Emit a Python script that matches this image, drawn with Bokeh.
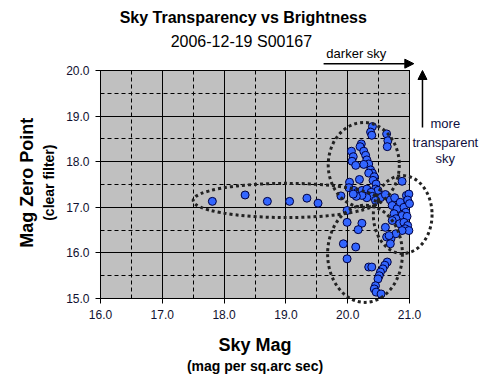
from bokeh.plotting import figure
from bokeh.models import (Range1d, SingleIntervalTicker, NumeralTickFormatter, Label,
                          Arrow, NormalHead, BoxAnnotation, ColumnDataSource, Grid)
from bokeh.embed import file_html
from bokeh.resources import INLINE
import math

# ---- data ----
sky_mag = [
    17.81, 18.34, 18.70, 19.06, 19.34, 19.52, 19.89,
    20.40, 20.37, 20.39, 20.63, 20.65, 20.64, 20.22, 20.20, 20.26, 20.29, 20.06, 20.09,
    20.07, 20.13, 20.31, 20.34, 20.26, 20.37, 20.40, 20.34, 20.43, 20.41, 20.46, 20.45,
    20.49, 20.88, 20.03, 20.19, 20.02, 20.10, 20.16, 20.23, 20.31, 20.38, 20.40, 20.31,
    20.23, 20.14, 20.09, 20.53, 20.61, 20.45,
    20.69, 20.76, 20.72, 20.80, 20.85, 20.91, 20.95, 20.99, 20.97, 21.00, 20.94, 20.88,
    20.96, 20.75, 20.78, 20.72, 20.84, 20.91, 20.97, 20.93, 20.99, 20.88, 20.61, 20.63,
    20.70, 20.69, 20.78, 20.67,
    19.99, 19.99, 20.23, 20.17, 19.93, 20.13, 19.99, 20.34, 20.39, 20.64, 20.60, 20.57,
    20.53, 20.51, 20.49, 20.45, 20.43, 20.46, 20.54,
]
zero_point = [
    17.13, 17.27, 17.13, 17.13, 17.20, 17.09, 17.25,
    18.77, 18.65, 18.58, 18.61, 18.46, 18.33, 18.39, 18.33, 18.23, 18.14, 18.23, 18.11,
    18.01, 17.92, 18.04, 17.95, 17.94, 17.82, 17.75, 17.75, 17.67, 17.59, 17.51, 17.40,
    17.37, 17.57, 17.55, 17.61, 17.43, 17.37, 17.33, 17.37, 17.40, 17.33, 17.24, 17.21,
    17.26, 17.24, 17.29, 17.21, 17.28, 17.15,
    17.16, 17.21, 17.04, 16.97, 17.11, 17.00, 17.26, 17.29, 17.16, 17.08, 16.89, 16.82,
    16.80, 16.86, 16.75, 16.71, 16.64, 16.67, 16.60, 16.53, 16.49, 16.49, 16.56, 16.35,
    16.31, 16.20, 16.42, 16.38,
    16.93, 16.67, 16.65, 16.51, 16.20, 16.13, 15.87, 15.69, 15.69, 15.80, 15.73, 15.65,
    15.58, 15.50, 15.43, 15.28, 15.21, 15.14, 15.10,
]

# axis extents of the chart's plot area
x_min, x_max = 16.0, 21.0
y_min, y_max = 15.0, 20.0

# ellipses: centre x, centre y, width, height (data units)
ell_cx = [19.00, 20.26, 20.89, 20.28]
ell_cy = [17.15, 17.93, 16.84, 15.98]
ell_w = [3.00, 1.15, 0.95, 1.21]
ell_h = [0.75, 1.86, 1.71, 2.13]

FONT = "Liberation Sans"

# whole canvas is the frame; the grey plot area spans [16,21] x [15,20]
p = figure(width=487, height=391, output_backend="svg", toolbar_location=None,
           x_range=Range1d(14.3819, 22.2621), y_range=Range1d(12.9605, 21.5351),
           min_border=0)
p.title.visible = False
p.background_fill_color = "white"
p.border_fill_color = "white"
p.outline_line_color = None

p.add_layout(BoxAnnotation(left=x_min, right=x_max, bottom=y_min, top=y_max,
                           fill_color="#c0c0c0", fill_alpha=1, line_color="#808080",
                           line_alpha=1, line_width=1, level="image"))

xax, yax = p.xaxis[0], p.yaxis[0]
xax.fixed_location = y_min
yax.fixed_location = x_min
xax.bounds = (x_min, x_max)
yax.bounds = (y_min, y_max)
for ax in (xax, yax):
    ax.ticker = SingleIntervalTicker(interval=1, num_minor_ticks=2)
    ax.formatter = NumeralTickFormatter(format="0.0")
    ax.axis_line_color = "black"
    ax.major_tick_line_color = "black"
    ax.major_tick_out = 5
    ax.major_tick_in = 0
    ax.minor_tick_line_color = None
    ax.major_label_text_font = FONT
    ax.major_label_text_font_size = "12px"
    ax.major_label_text_color = "#101030"
xax.major_label_standoff = 7
yax.major_label_standoff = 6

for g in list(p.grid):
    g.visible = False
has_cross = "cross_bounds" in Grid.properties()
for dim, b, cb in ((0, (x_min, x_max), (y_min, y_max)), (1, (y_min, y_max), (x_min, x_max))):
    g = Grid(dimension=dim, ticker=SingleIntervalTicker(interval=1, num_minor_ticks=2),
             bounds=b, grid_line_color="black", grid_line_width=1,
             minor_grid_line_color="black", minor_grid_line_dash="4 3", level="underlay")
    if has_cross:
        g.cross_bounds = cb
    p.add_layout(g)

src = ColumnDataSource(dict(x=sky_mag, y=zero_point))
p.scatter("x", "y", source=src, size=8, fill_color="#3366ff", line_color="#000040", line_width=1)

esrc = ColumnDataSource(dict(x=ell_cx, y=ell_cy, w=ell_w, h=ell_h))
p.ellipse("x", "y", width="w", height="h", source=esrc, fill_color=None,
          line_color="#222222", line_width=3, line_dash="3 3", line_cap="butt")

def lab(x, y, text, size, bold=False, angle=0.0, color="black"):
    p.add_layout(Label(x=x, y=y, text=text, text_font=FONT, text_font_size=size,
                       text_font_style="bold" if bold else "normal", angle=angle,
                       text_align="center", text_baseline="middle", text_color=color))

lab(18.31, 21.16, "Sky Transparency vs Brightness", "16px", bold=True)
lab(18.28, 20.64, "2006-12-19 S00167", "16px")
lab(18.50, 13.97, "Sky Mag", "18px", bold=True)
lab(18.50, 13.51, "(mag per sq.arc sec)", "14px", bold=True)
lab(14.81, 17.54, "Mag Zero Point", "18px", bold=True, angle=math.pi / 2)
lab(15.16, 17.54, "(clear filter)", "14px", bold=True, angle=math.pi / 2)
lab(20.14, 20.38, "darker sky", "13px")
lab(21.58, 18.83, "more", "13px", color="#101040")
lab(21.58, 18.43, "transparent", "13px", color="#101040")
lab(21.58, 18.06, "sky", "13px", color="#101040")

p.add_layout(Arrow(end=NormalHead(size=9, fill_color="black", line_color="black"),
                   x_start=19.61, y_start=20.15, x_end=21.07, y_end=20.15,
                   line_color="black", line_width=1.5))
p.add_layout(Arrow(end=NormalHead(size=9, fill_color="black", line_color="black"),
                   x_start=21.21, y_start=18.75, x_end=21.21, y_end=20.0,
                   line_color="black", line_width=1.5))

open("out.html", "w").write(file_html(p, INLINE))
